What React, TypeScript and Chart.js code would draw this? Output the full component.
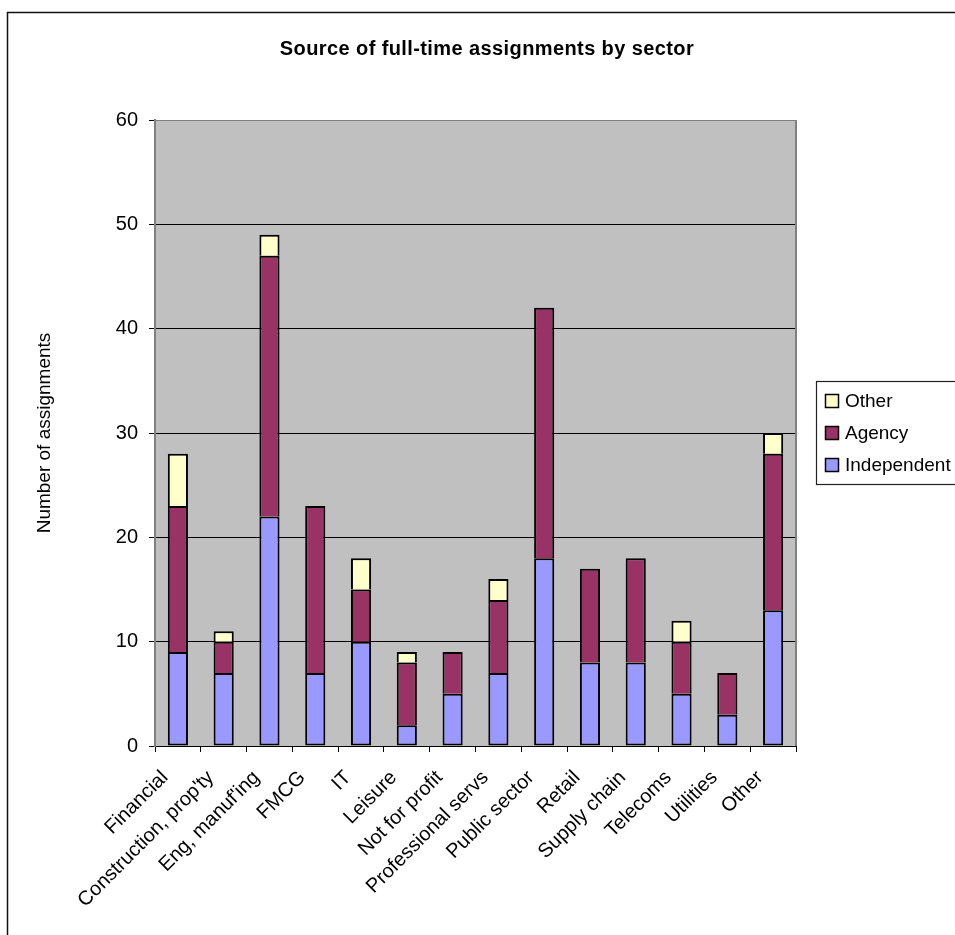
import React, { useEffect, useRef } from "react";
import { Chart, registerables } from "chart.js";

Chart.register(...registerables);

// Sectors and the number of full-time assignments from each source
const sectors = [
  "Financial",
  "Construction, prop'ty",
  "Eng, manuf'ing",
  "FMCG",
  "IT",
  "Leisure",
  "Not for profit",
  "Professional servs",
  "Public sector",
  "Retail",
  "Supply chain",
  "Telecoms",
  "Utilities",
  "Other",
];
const independent = [9, 7, 22, 7, 10, 2, 5, 7, 18, 8, 8, 5, 3, 13];
const agency = [14, 3, 25, 16, 5, 6, 4, 7, 24, 9, 10, 5, 4, 15];
const other = [5, 1, 2, 0, 3, 1, 0, 2, 0, 0, 0, 2, 0, 2];

const yMin = 0;
const yMax = 60;
const yStep = 10;

const chartTitle = "Source of full-time assignments by sector";
const yAxisTitle = "Number of assignments";

const FONT = "'Liberation Sans', Arial, Helvetica, sans-serif";
const W = 955;
const H = 935;

// hide empty segments so they do not leave a stray outline
const seg = (arr: number[]) => arr.map((v) => (v === 0 ? null : v));

const decorations = {
  id: "decorations",
  beforeDraw(chart: any) {
    const { ctx, chartArea } = chart;
    ctx.save();
    ctx.fillStyle = "#ffffff";
    ctx.fillRect(0, 0, W, H);
    // outer frame
    ctx.strokeStyle = "#111";
    ctx.lineWidth = 1.5;
    ctx.strokeRect(7.5, 12.5, W + 20, H + 20);
    // plot background
    ctx.fillStyle = "#c0c0c0";
    ctx.fillRect(
      chartArea.left,
      chartArea.top,
      chartArea.right - chartArea.left,
      chartArea.bottom - chartArea.top
    );
    ctx.restore();
  },
  afterDraw(chart: any) {
    const { ctx, chartArea } = chart;
    ctx.save();
    // right edge of plot area
    ctx.strokeStyle = "#808080";
    ctx.lineWidth = 2;
    ctx.beginPath();
    ctx.moveTo(chartArea.right, chartArea.top);
    ctx.lineTo(chartArea.right, chartArea.bottom);
    ctx.stroke();

    // title
    ctx.fillStyle = "#000";
    ctx.font = `bold 20px ${FONT}`;
    (ctx as any).letterSpacing = "0.4px";
    ctx.textAlign = "center";
    ctx.textBaseline = "middle";
    ctx.fillText(chartTitle, 487, 49);
    (ctx as any).letterSpacing = "0px";

    // y axis title
    ctx.save();
    ctx.translate(45, (chartArea.top + chartArea.bottom) / 2);
    ctx.rotate(-Math.PI / 2);
    ctx.font = `19px ${FONT}`;
    ctx.textAlign = "center";
    ctx.textBaseline = "middle";
    ctx.fillText(yAxisTitle, 0, 0);
    ctx.restore();

    // legend
    const lx = 816.5;
    const ly = 381.5;
    const lw = 160;
    const lh = 103;
    ctx.fillStyle = "#ffffff";
    ctx.fillRect(lx, ly, lw, lh);
    ctx.strokeStyle = "#222";
    ctx.lineWidth = 1.2;
    ctx.strokeRect(lx, ly, lw, lh);
    const items = chart.data.datasets.slice().reverse();
    ctx.font = `19px ${FONT}`;
    ctx.textAlign = "left";
    ctx.textBaseline = "middle";
    items.forEach((ds: any, i: number) => {
      const cy = 401 + i * 32;
      ctx.fillStyle = ds.backgroundColor;
      ctx.fillRect(825.5, cy - 6.5, 13, 13);
      ctx.strokeStyle = "#000";
      ctx.lineWidth = 1.5;
      ctx.strokeRect(825.5, cy - 6.5, 13, 13);
      ctx.fillStyle = "#000";
      ctx.fillText(ds.label, 845, cy + 1);
    });
    ctx.restore();
  },
};

export default function App() {
  const ref = useRef<HTMLCanvasElement | null>(null);

  useEffect(() => {
    if (!ref.current) return;
    const common = {
      borderColor: "#000000",
      borderWidth: 2,
      categoryPercentage: 1,
      barPercentage: 0.44,
    };
    const chart = new Chart(ref.current, {
      type: "bar",
      data: {
        labels: sectors,
        datasets: [
          { label: "Independent", data: seg(independent), backgroundColor: "#9999ff", borderSkipped: false, ...common },
          { label: "Agency", data: seg(agency), backgroundColor: "#993366", borderSkipped: "start", ...common },
          { label: "Other", data: seg(other), backgroundColor: "#ffffcc", borderSkipped: "start", ...common },
        ],
      },
      options: {
        responsive: false,
        animation: false,
        devicePixelRatio: 1,
        layout: { padding: { left: 0, top: 120, right: W - 796, bottom: 0 } },
        plugins: {
          legend: { display: false },
          title: { display: false },
          tooltip: { enabled: false },
        },
        scales: {
          x: {
            stacked: true,
            afterFit: (scale: any) => {
              scale.height = H - 746;
            },
            grid: {
              offset: true,
              drawOnChartArea: false,
              drawTicks: true,
              tickLength: 6,
              tickColor: "#000",
              tickWidth: 1,
            },
            border: { color: "#000", width: 1 },
            ticks: {
              autoSkip: false,
              maxRotation: 45,
              minRotation: 45,
              padding: 14,
              labelOffset: -13,
              color: "#000",
              font: { family: FONT, size: 20 },
            },
          },
          y: {
            stacked: true,
            min: yMin,
            max: yMax,
            afterFit: (scale: any) => {
              scale.width = 155;
            },
            grid: {
              color: (c: any) => (c.tick && c.tick.value === yMax ? "#808080" : "#000"),
              lineWidth: 1,
              drawTicks: true,
              tickLength: 6,
              tickColor: "#000",
            },
            border: { color: "#808080", width: 2 },
            ticks: {
              stepSize: yStep,
              padding: 11,
              color: "#000",
              font: { family: FONT, size: 20 },
            },
          },
        },
      },
      plugins: [decorations],
    });
    return () => chart.destroy();
  }, []);

  return (
    <div style={{ position: "absolute", left: 0, top: 0, width: W, height: H, overflow: "hidden" }}>
      <canvas ref={ref} width={W} height={H} style={{ display: "block", width: W, height: H }} />
    </div>
  );
}
